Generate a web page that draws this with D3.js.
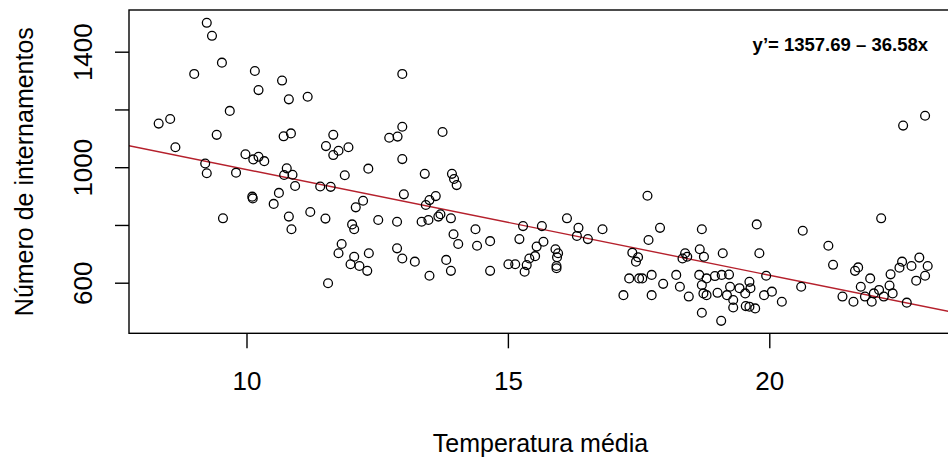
<!DOCTYPE html>
<html>
<head>
<meta charset="utf-8">
<script src="https://cdn.jsdelivr.net/npm/d3@7"></script>
<style>
  html, body { margin: 0; padding: 0; background: #fff; }
  svg { display: block; }
  text { font-family: "Liberation Sans", Arial, sans-serif; fill: #000; }
</style>
</head>
<body>
<svg id="chart" width="948" height="457"></svg>
<script>
// ---- data ----
const temperatura = [
  9.24, 9.34, 9.53, 9.00, 10.16, 10.23, 10.68, 10.81, 11.17, 9.68,
  8.32, 8.54, 8.64, 9.43, 10.71, 10.85, 9.98, 10.13, 10.23, 10.34,
  9.21, 9.24, 9.80, 10.77, 10.72, 10.88, 10.93, 11.41, 11.52, 11.66,
  10.11, 10.12, 10.62, 10.52, 9.55, 10.81, 10.86, 11.22, 11.51, 11.56,
  12.98, 12.98, 12.89, 12.73, 13.75, 11.76, 11.95, 11.66, 12.98, 12.33,
  11.88, 13.41, 13.93, 13.97, 14.02, 11.61, 12.23, 12.09, 13.01, 13.43,
  13.50, 13.62, 12.02, 12.06, 12.52, 12.88, 13.35, 13.48, 13.67, 13.71,
  13.91, 13.96, 14.05, 14.38, 14.41, 14.66, 15.29, 15.22, 11.82, 11.76,
  12.06, 12.34, 11.99, 12.16, 12.31, 12.88, 12.98, 13.22, 13.82, 13.91,
  13.50, 14.66, 15.01, 15.14, 15.32, 15.41, 15.65, 16.13, 16.35, 16.32,
  16.53, 16.81, 17.67, 17.91, 17.69, 18.71, 18.67, 18.75, 19.11, 17.38,
  17.49, 17.45, 18.39, 18.43, 18.34, 15.68, 15.55, 15.52, 15.36, 15.91,
  15.96, 15.94, 15.93, 15.93, 17.32, 17.51, 17.57, 17.75, 17.97, 17.21,
  17.75, 18.22, 18.29, 18.46, 18.66, 18.80, 18.96, 19.09, 19.23, 18.71,
  18.74, 18.80, 19.01, 19.19, 19.25, 19.31, 18.71, 19.08, 19.76, 19.81,
  20.64, 21.13, 21.22, 22.14, 19.94, 19.43, 19.62, 19.64, 19.54, 19.31,
  19.55, 19.62, 19.73, 19.90, 20.05, 20.24, 20.61, 21.40, 21.61, 21.64,
  21.70, 21.93, 21.75, 21.83, 21.96, 22.00, 22.10, 22.19, 22.30, 22.36,
  22.32, 22.49, 22.54, 22.72, 22.87, 23.03, 22.98, 22.81, 22.63, 22.56,
  22.98
];
const internamentos = [
  1500, 1455, 1362, 1323, 1333, 1267, 1300, 1235, 1244, 1195,
  1151, 1167, 1069, 1112, 1107, 1117, 1045, 1027, 1036, 1021,
  1013, 979, 981, 996, 973, 974, 935, 933, 1073, 1112,
  898, 892, 911, 873, 823, 829, 785, 845, 822, 598,
  1323, 1140, 1106, 1102, 1122, 1057, 1069, 1042, 1028, 995,
  972, 977, 977, 959, 938, 932, 884, 861, 906, 869,
  886, 900, 802, 785, 817, 811, 811, 817, 829, 837,
  823, 768, 734, 785, 728, 744, 796, 751, 734, 702,
  690, 702, 664, 658, 641, 719, 684, 673, 679, 641,
  624, 641, 664, 664, 638, 684, 796, 823, 790, 762,
  751, 785, 901, 790, 748, 785, 716, 690, 702, 704,
  688, 673, 702, 690, 684, 742, 725, 692, 661, 716,
  702, 688, 658, 650, 615, 615, 615, 627, 596, 557,
  557, 627, 586, 552, 627, 615, 623, 627, 628, 592,
  563, 557, 565, 557, 586, 514, 496, 468, 802, 702,
  780, 728, 662, 823, 624, 581, 603, 581, 563, 540,
  519, 517, 511, 557, 569, 534, 586, 552, 534, 641,
  653, 615, 586, 552, 534, 563, 575, 552, 590, 563,
  629, 652, 673, 658, 687, 658, 624, 607, 531, 1144,
  1178
];
const xTicks = [10, 15, 20];
const yTicks = [600, 800, 1000, 1200, 1400];
const yTickLabels = ["600", "", "1000", "", "1400"];
const intercepto = 1357.69;
const inclinacao = -36.58;
const equacao = "y\u2019= 1357.69 \u2013 36.58x";
const xTitulo = "Temperatura média";
const yTitulo = "Número de internamentos";

// ---- layout ----
const svg = d3.select("#chart");
const plot = { left: 129, right: 952, top: 10, bottom: 333.3 };

const x = d3.scaleLinear().domain([7.7525, 23.495]).range([plot.left, plot.right]);
const y = d3.scaleLinear().domain([424.8, 1544.4]).range([plot.bottom, plot.top]);

svg.append("defs").append("clipPath").attr("id", "clip")
  .append("rect")
  .attr("x", plot.left).attr("y", plot.top)
  .attr("width", plot.right - plot.left).attr("height", plot.bottom - plot.top);

// regression line
const xd = x.domain();
svg.append("line")
  .attr("clip-path", "url(#clip)")
  .attr("x1", x(xd[0])).attr("y1", y(intercepto + inclinacao * xd[0]))
  .attr("x2", x(xd[1])).attr("y2", y(intercepto + inclinacao * xd[1]))
  .attr("stroke", "#b5202c").attr("stroke-width", 1.4);

// points
const pts = temperatura.map((t, i) => [t, internamentos[i]]);
svg.append("g").attr("clip-path", "url(#clip)")
  .selectAll("circle").data(pts).join("circle")
  .attr("cx", d => x(d[0])).attr("cy", d => y(d[1]))
  .attr("r", 4.4)
  .attr("fill", "none").attr("stroke", "#000").attr("stroke-width", 1.3);

// box
svg.append("rect")
  .attr("x", plot.left).attr("y", plot.top)
  .attr("width", plot.right - plot.left).attr("height", plot.bottom - plot.top)
  .attr("fill", "none").attr("stroke", "#000").attr("stroke-width", 1.4);

// x axis
const xAxis = d3.axisBottom(x).tickValues(xTicks).tickSize(15).tickPadding(20)
  .tickFormat(d3.format("d"));
const gx = svg.append("g").attr("transform", `translate(0,${plot.bottom})`).call(xAxis);
gx.select(".domain").remove();
gx.selectAll(".tick line").attr("stroke", "#000").attr("stroke-width", 1.4);
gx.selectAll(".tick text").attr("font-size", 26).attr("dy", null)
  .attr("y", 57).attr("font-family", "Liberation Sans, Arial, sans-serif").attr("fill", "#111");

// y axis
const yAxis = d3.axisLeft(y).tickValues(yTicks).tickSize(14)
  .tickFormat((d, i) => yTickLabels[i]);
const gy = svg.append("g").attr("transform", `translate(${plot.left},0)`).call(yAxis);
gy.select(".domain").remove();
gy.selectAll(".tick line").attr("stroke", "#000").attr("stroke-width", 1.4);
gy.selectAll(".tick text")
  .attr("x", null).attr("dy", null).attr("y", null)
  .attr("text-anchor", "middle")
  .attr("font-size", 26)
  .attr("font-family", "Liberation Sans, Arial, sans-serif").attr("fill", "#111")
  .attr("transform", "translate(-37,0) rotate(-90)");

// axis titles
svg.append("text")
  .attr("x", (plot.left + plot.right) / 2).attr("y", 452)
  .attr("text-anchor", "middle").attr("font-size", 25).attr("fill", "#111")
  .text(xTitulo);

svg.append("text")
  .attr("transform", `translate(33,${(plot.top + plot.bottom) / 2}) rotate(-90)`)
  .attr("text-anchor", "middle").attr("font-size", 25).attr("fill", "#111")
  .text(yTitulo);

// equation
svg.append("text")
  .attr("x", 928).attr("y", 51)
  .attr("text-anchor", "end").attr("font-size", 18.5).attr("font-weight", "bold")
  .text(equacao);
</script>
</body>
</html>
